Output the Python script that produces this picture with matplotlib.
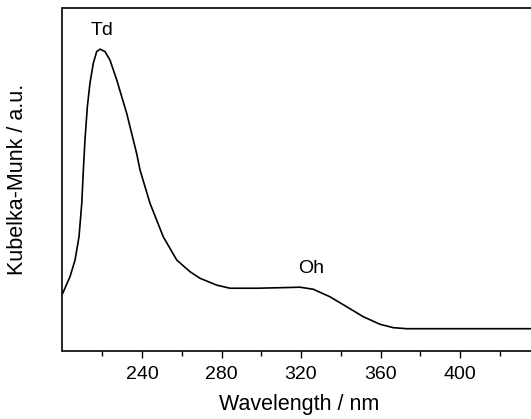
import matplotlib
matplotlib.use("Agg")
import matplotlib.pyplot as plt
import numpy as np

plt.rcParams['font.family'] = ['Liberation Sans', 'DejaVu Sans']

# spectrum (wavelength in nm, Kubelka-Munk in a.u.)
wavelength = [200.1, 203.8, 206.3, 208.3, 209.7, 210.5, 211.3, 212.5, 213.8, 215.5,
              217.2, 218.9, 221.4, 223.9, 227.3, 232.3, 237.3, 239.0, 244.0, 250.7,
              257.5, 264.2, 269.2, 277.6, 284.3, 298.0, 312.8, 319.5, 326.2, 334.6,
              343.0, 351.3, 359.7, 366.4, 373.2, 400.0, 440.0]
km = [0.168, 0.217, 0.265, 0.333, 0.431, 0.528, 0.615, 0.712, 0.780, 0.839,
      0.873, 0.880, 0.873, 0.848, 0.790, 0.693, 0.576, 0.528, 0.431, 0.333,
      0.265, 0.231, 0.212, 0.192, 0.183, 0.183, 0.185, 0.186, 0.180, 0.158,
      0.129, 0.100, 0.078, 0.068, 0.065, 0.065, 0.065]

peak_labels = ["Td", "Oh"]
peak_pos = [(220, 0.933), (325, 0.24)]

W, H = 531, 419
fig = plt.figure(figsize=(W / 100, H / 100), dpi=100)
# axes runs past the right edge of the picture, like the reference crop
ax = fig.add_axes([62.5 / W, (H - 351) / H, 477 / W, 343 / H])

ax.plot(wavelength, km, color='black', lw=1.2)
for lab, (x, y) in zip(peak_labels, peak_pos):
    ax.text(x, y, lab, ha='center', va='center', fontsize=14)

ax.set_xlim(200, 440)
ax.set_ylim(0, 1)
ax.set_xticks([240, 280, 320, 360, 400])
ax.set_xticks(np.arange(220, 440, 40), minor=True)
ax.set_yticks([])
ax.tick_params(axis='x', which='major', length=5, width=1, labelsize=14, pad=6)
ax.tick_params(axis='x', which='minor', length=3.5, width=1)
for s in ax.spines.values():
    s.set_linewidth(1.2)

ax.set_xlabel("Wavelength / nm", fontsize=15.5)
ax.set_ylabel("Kubelka-Munk / a.u.", fontsize=15.5)
ax.xaxis.set_label_coords((299.5 - 62.5) / 477, -(394 - 351) / 343)
ax.yaxis.set_label_coords(-(62.5 - 28) / 477, (351 - 179) / 343)

fig.savefig("out.png", dpi=100)
